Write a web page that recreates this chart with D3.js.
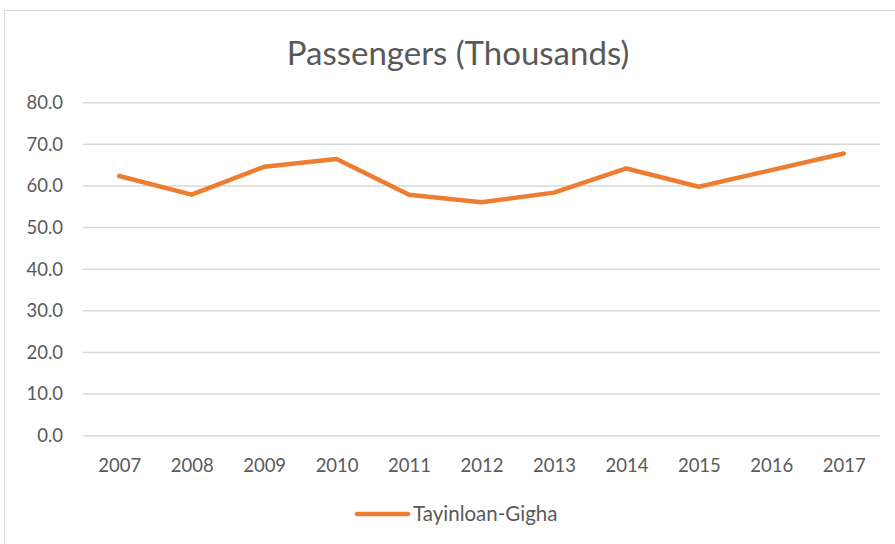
<!DOCTYPE html>
<html>
<head>
<meta charset="utf-8">
<script src="https://cdn.jsdelivr.net/npm/d3@7"></script>
<style>
  html, body { margin: 0; padding: 0; background: #fff; }
  svg { display: block; font-family: Lato, "Open Sans", sans-serif; }
</style>
</head>
<body>
<svg id="chart" width="895" height="544"></svg>
<script>
// Annual passengers on the Tayinloan-Gigha ferry route, in thousands
const years = ["2007", "2008", "2009", "2010", "2011", "2012", "2013", "2014", "2015", "2016", "2017"];
const passengers = [62.4, 57.9, 64.6, 66.5, 57.9, 56.1, 58.4, 64.2, 59.8, 63.8, 67.8];
const yTicks = [0, 10, 20, 30, 40, 50, 60, 70, 80];
const seriesName = "Tayinloan-Gigha";
const chartTitle = "Passengers (Thousands)";

const svg = d3.select("#chart");
const textColor = "#595959";
const lineColor = "#ED7D31";

// Chart frame
svg.append("rect")
  .attr("x", 4.5).attr("y", 10.5)
  .attr("width", 900).attr("height", 550)
  .attr("fill", "#fff").attr("stroke", "#d9d9d9").attr("stroke-width", 1);

const plot = { left: 83, right: 880, top: 102.7, bottom: 435.7 };

const x = d3.scalePoint().domain(years).range([plot.left, plot.right]).padding(0.5);
const y = d3.scaleLinear().domain([0, 80]).range([plot.bottom, plot.top]);

// Horizontal gridlines
svg.append("g")
  .selectAll("line")
  .data(yTicks)
  .join("line")
  .attr("x1", plot.left).attr("x2", plot.right)
  .attr("y1", d => y(d)).attr("y2", d => y(d))
  .attr("stroke", "#d9d9d9").attr("stroke-width", 1.5);

// Y axis labels
const yAxis = d3.axisLeft(y).tickValues(yTicks).tickFormat(d3.format(".1f")).tickSize(0).tickPadding(0);
svg.append("g")
  .attr("transform", `translate(${plot.left - 20},0)`)
  .call(yAxis)
  .call(g => g.select(".domain").remove())
  .call(g => g.selectAll("text")
    .attr("fill", textColor)
    .style("font-size", "18.5px")
    .style("font-family", "Lato, 'Open Sans', sans-serif"));

// X axis labels
const xAxis = d3.axisBottom(x).tickSize(0).tickPadding(0);
svg.append("g")
  .attr("transform", `translate(0,${plot.bottom + 23})`)
  .call(xAxis)
  .call(g => g.select(".domain").remove())
  .call(g => g.selectAll("text")
    .attr("fill", textColor)
    .style("font-size", "18.5px")
    .style("font-family", "Lato, 'Open Sans', sans-serif"));

// Series line
const line = d3.line()
  .x((d, i) => x(years[i]))
  .y(d => y(d));

svg.append("path")
  .datum(passengers)
  .attr("d", line)
  .attr("fill", "none")
  .attr("stroke", lineColor)
  .attr("stroke-width", 4.5)
  .attr("stroke-linejoin", "round")
  .attr("stroke-linecap", "round");

// Title
svg.append("text")
  .attr("x", 458).attr("y", 65)
  .attr("text-anchor", "middle")
  .attr("fill", textColor)
  .style("font-size", "33px")
  .text(chartTitle);

// Legend
const legend = svg.append("g").attr("transform", "translate(357,514)");
legend.append("line")
  .attr("x1", 0).attr("x2", 51)
  .attr("y1", 0).attr("y2", 0)
  .attr("stroke", lineColor).attr("stroke-width", 4.5)
  .attr("stroke-linecap", "round");
legend.append("text")
  .attr("x", 56).attr("y", 0)
  .attr("dy", "0.35em")
  .attr("fill", textColor)
  .style("font-size", "20.5px")
  .text(seriesName);
</script>
</body>
</html>
